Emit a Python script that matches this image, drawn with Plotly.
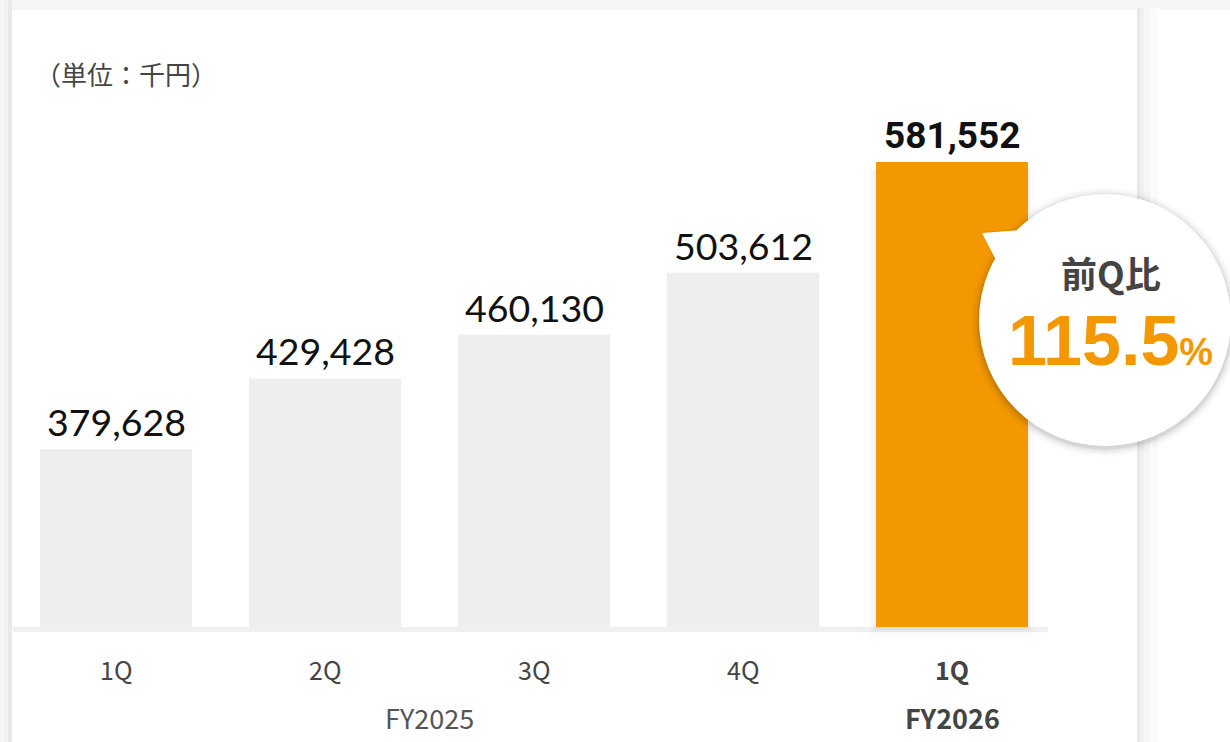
import plotly.graph_objects as go

# ---- data ----
quarters = ["1Q", "2Q", "3Q", "4Q", "1Q "]
quarter_labels = ["1Q", "2Q", "3Q", "4Q", "1Q"]
values = [379628, 429428, 460130, 503612, 581552]
fiscal_years = ["FY2025", "FY2026"]
unit_label = "（単位：千円）"
qoq_title = "前Q比"
qoq_value = "115.5"

W, H = 1230, 742
def px(x):
    return x / W
def py(y):
    return 1 - y / H

gray_bar = "#eeeeee"
orange = "#f39800"
bar_colors = [gray_bar] * 4 + [orange]

fig = go.Figure()
fig.add_trace(go.Bar(
    x=quarters, y=values, marker=dict(color=bar_colors, line=dict(width=0)),
    hoverinfo="skip", showlegend=False,
))

annotations = []
# value labels
for i, (q, v) in enumerate(zip(quarters, values)):
    txt = f"{v:,}"
    last = i == len(values) - 1
    annotations.append(dict(
        x=q, y=v, xref="x", yref="y", yanchor="bottom", yshift=3,
        text=f"<b>{txt}</b>" if last else txt, showarrow=False,
        font=dict(family="Roboto" if last else "Lato", size=37 if last else 37.5, color="#111111"),
    ))
# category labels
for i, (q, lab) in enumerate(zip(quarters, quarter_labels)):
    last = i == len(quarters) - 1
    annotations.append(dict(
        x=q, y=py(669), xref="x", yref="paper", yanchor="middle",
        text=f"<b>{lab}</b>" if last else lab, showarrow=False,
        font=dict(family="Noto Sans CJK JP", size=25, color="#444444"),
    ))
annotations.append(dict(
    x=1.5, y=py(717), xref="x", yref="paper", yanchor="middle",
    text=fiscal_years[0], showarrow=False,
    font=dict(family="Noto Sans CJK JP", size=27, color="#555555"),
))
annotations.append(dict(
    x=quarters[-1], y=py(717), xref="x", yref="paper", yanchor="middle",
    text=f"<b>{fiscal_years[1]}</b>", showarrow=False,
    font=dict(family="Noto Sans CJK JP", size=27, color="#444444"),
))
# unit label
annotations.append(dict(
    x=px(33), y=py(74), xref="paper", yref="paper", xanchor="left", yanchor="middle",
    text=unit_label, showarrow=False,
    font=dict(family="Noto Sans CJK JP", size=26, color="#444444"),
))
# callout texts
annotations.append(dict(
    x=px(1111), y=py(272), xref="paper", yref="paper", xanchor="center", yanchor="middle",
    text=f"<b>{qoq_title}</b>", showarrow=False,
    font=dict(family="Noto Sans CJK JP", size=36, color="#444444"),
))
annotations.append(dict(
    x=px(1110), y=py(341), xref="paper", yref="paper", xanchor="center", yanchor="middle",
    text=f"<b>{qoq_value}<span style='font-size:38px'>%</span></b>", showarrow=False,
    font=dict(family="Liberation Sans", size=70, color=orange),
))

shapes = []
# outer background / card shadow
shapes.append(dict(type="rect", xref="paper", yref="paper", x0=0, x1=1, y0=py(10), y1=1,
                   fillcolor="#f6f6f6", line=dict(width=0), layer="below"))
for x0, x1, c in [(0, 4, "#f6f6f6"), (4, 8, "#f1f1f1"), (8, 12, "#e9e9e9")]:
    shapes.append(dict(type="rect", xref="paper", yref="paper", x0=px(x0), x1=px(x1), y0=0, y1=1,
                       fillcolor=c, line=dict(width=0), layer="below"))
for x0, x1, c in [(1137, 1140, "#e8e8e8"), (1140, 1144, "#f0f0f0"), (1144, 1150, "#f6f6f6"), (1150, 1158, "#fbfbfb")]:
    shapes.append(dict(type="rect", xref="paper", yref="paper", x0=px(x0), x1=px(x1), y0=0, y1=py(8),
                       fillcolor=c, line=dict(width=0), layer="below"))
# baseline
shapes.append(dict(type="rect", xref="paper", yref="paper", x0=px(13), x1=px(1048), y0=py(632), y1=py(627),
                   fillcolor="#f0f0f0", line=dict(width=0), layer="below"))
# soft glow around highlighted bar
for k, a in [(9, 0.012), (6, 0.02), (3, 0.03)]:
    shapes.append(dict(type="rect", xref="paper", yref="paper", x0=px(877 - k), x1=px(1025 + k),
                       y0=py(627 + k), y1=py(172 - k / 2),
                       fillcolor=f"rgba(0,0,0,{a})", line=dict(width=0), layer="below"))

# callout bubble
cx, cy, r = 1105, 320, 126
for k, a in [(9, 0.012), (7, 0.02), (5, 0.03), (3, 0.045), (1.5, 0.06)]:
    shapes.append(dict(type="circle", xref="paper", yref="paper",
                       x0=px(cx - r - k), x1=px(cx + r + k), y0=py(cy + r + k + 2), y1=py(cy - r - k + 2),
                       fillcolor=f"rgba(0,0,0,{a})", line=dict(width=0)))
shapes.append(dict(type="path", xref="paper", yref="paper",
                   path=f"M {px(981)},{py(232)} L {px(1020)},{py(228)} L {px(998)},{py(268)} Z",
                   fillcolor="rgba(0,0,0,0.05)", line=dict(width=0)))
shapes.append(dict(type="circle", xref="paper", yref="paper",
                   x0=px(cx - r), x1=px(cx + r), y0=py(cy + r), y1=py(cy - r),
                   fillcolor="white", line=dict(width=0)))
shapes.append(dict(type="path", xref="paper", yref="paper",
                   path=f"M {px(982)},{py(233)} L {px(1020)},{py(230)} L {px(1000)},{py(268)} Z",
                   fillcolor="white", line=dict(width=0)))

y_bottom_val = 254700
y_top_val = 625070
fig.update_layout(
    width=W, height=H, margin=dict(l=0, r=0, t=0, b=0),
    paper_bgcolor="white", plot_bgcolor="rgba(0,0,0,0)",
    bargap=0.273,
    xaxis=dict(domain=[px(11.5), px(1056.5)], range=[-0.5, 4.5], showticklabels=False,
               showgrid=False, zeroline=False, showline=False, fixedrange=True),
    yaxis=dict(domain=[py(627), py(100)], range=[y_bottom_val, y_top_val], showticklabels=False,
               showgrid=False, zeroline=False, showline=False, fixedrange=True),
    shapes=shapes, annotations=annotations,
)
fig.write_html("out.html", config={"displayModeBar": False},
               post_script="document.body.style.margin='0';document.body.style.overflow='hidden';")
